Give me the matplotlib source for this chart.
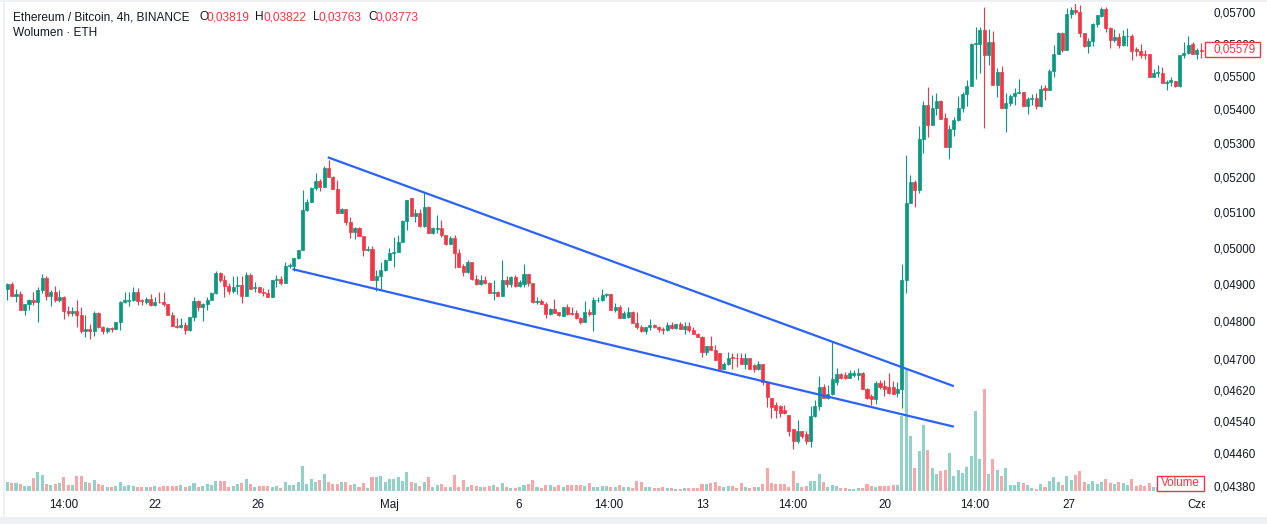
import matplotlib
matplotlib.use("Agg")
import matplotlib.pyplot as plt
from matplotlib.patches import Rectangle
from matplotlib.ticker import FixedLocator, NullLocator, FuncFormatter, NullFormatter
import numpy as np

plt.rcParams['font.family'] = ['Liberation Sans', 'DejaVu Sans']

# ETH/BTC 4h candles (Binance)
opens = [
    0.04887, 0.04901, 0.04869, 0.04874, 0.04830, 0.04846, 0.04857, 0.04852, 0.04884, 0.04918,
    0.04869, 0.04879, 0.04857, 0.04865, 0.04828, 0.04822, 0.04828, 0.04818, 0.04774, 0.04779,
    0.04774, 0.04823, 0.04784, 0.04774, 0.04783, 0.04780, 0.04798, 0.04853, 0.04855, 0.04857,
    0.04879, 0.04858, 0.04852, 0.04860, 0.04844, 0.04852, 0.04852, 0.04845, 0.04818, 0.04788,
    0.04784, 0.04789, 0.04776, 0.04811, 0.04854, 0.04837, 0.04847, 0.04857, 0.04877, 0.04930,
    0.04910, 0.04896, 0.04882, 0.04894, 0.04897, 0.04869, 0.04925, 0.04889, 0.04892, 0.04878,
    0.04877, 0.04866, 0.04910, 0.04914, 0.04902, 0.04950, 0.04951, 0.04971, 0.04994, 0.05106,
    0.05130, 0.05168, 0.05189, 0.05172, 0.05227, 0.05201, 0.05167, 0.05099, 0.05109, 0.05073,
    0.05044, 0.05056, 0.05033, 0.04994, 0.04997, 0.04910, 0.04923, 0.04939, 0.04967, 0.04985,
    0.04988, 0.05016, 0.05075, 0.05139, 0.05089, 0.05099, 0.05061, 0.05116, 0.05042, 0.05052,
    0.05054, 0.05036, 0.05011, 0.05026, 0.04985, 0.04950, 0.04932, 0.04961, 0.04913, 0.04900,
    0.04912, 0.04904, 0.04876, 0.04878, 0.04869, 0.04912, 0.04901, 0.04919, 0.04895, 0.04900,
    0.04928, 0.04902, 0.04851, 0.04855, 0.04845, 0.04819, 0.04833, 0.04826, 0.04815, 0.04837,
    0.04823, 0.04821, 0.04810, 0.04799, 0.04825, 0.04820, 0.04857, 0.04856, 0.04870, 0.04874,
    0.04830, 0.04838, 0.04810, 0.04812, 0.04826, 0.04796, 0.04785, 0.04774, 0.04785, 0.04790,
    0.04784, 0.04780, 0.04776, 0.04790, 0.04783, 0.04792, 0.04780, 0.04788, 0.04776, 0.04767,
    0.04759, 0.04720, 0.04735, 0.04724, 0.04715, 0.04674, 0.04687, 0.04706, 0.04703, 0.04704,
    0.04687, 0.04702, 0.04684, 0.04674, 0.04687, 0.04641, 0.04599, 0.04582, 0.04578, 0.04570,
    0.04556, 0.04520, 0.04490, 0.04515, 0.04508, 0.04491, 0.04554, 0.04578, 0.04628, 0.04599,
    0.04610, 0.04640, 0.04661, 0.04658, 0.04652, 0.04658, 0.04660, 0.04665, 0.04624, 0.04606,
    0.04596, 0.04637, 0.04630, 0.04628, 0.04627, 0.04613, 0.04624, 0.04911, 0.05127, 0.05185,
    0.05163, 0.05311, 0.05413, 0.05353, 0.05403, 0.05425, 0.05373, 0.05289, 0.05340, 0.05368,
    0.05403, 0.05446, 0.05471, 0.05599, 0.05601, 0.05644, 0.05565, 0.05607, 0.05474, 0.05514,
    0.05405, 0.05418, 0.05440, 0.05448, 0.05453, 0.05410, 0.05431, 0.05433, 0.05410, 0.05464,
    0.05458, 0.05517, 0.05568, 0.05633, 0.05581, 0.05694, 0.05706, 0.05700, 0.05633, 0.05592,
    0.05609, 0.05662, 0.05686, 0.05709, 0.05649, 0.05612, 0.05622, 0.05595, 0.05624, 0.05626,
    0.05583, 0.05579, 0.05569, 0.05568, 0.05499, 0.05510, 0.05511, 0.05481, 0.05482, 0.05485,
    0.05469, 0.05565, 0.05572, 0.05598, 0.05569, 0.05581,
]
highs = [
    0.04904, 0.04905, 0.04887, 0.04882, 0.04846, 0.04860, 0.04879, 0.04893, 0.04928, 0.04921,
    0.04884, 0.04895, 0.04884, 0.04868, 0.04841, 0.04839, 0.04857, 0.04839, 0.04817, 0.04794,
    0.04828, 0.04826, 0.04787, 0.04785, 0.04785, 0.04798, 0.04855, 0.04878, 0.04879, 0.04892,
    0.04889, 0.04860, 0.04866, 0.04874, 0.04865, 0.04878, 0.04879, 0.04846, 0.04824, 0.04808,
    0.04808, 0.04798, 0.04811, 0.04864, 0.04857, 0.04850, 0.04866, 0.04880, 0.04936, 0.04934,
    0.04925, 0.04902, 0.04921, 0.04921, 0.04921, 0.04934, 0.04930, 0.04905, 0.04893, 0.04889,
    0.04886, 0.04912, 0.04926, 0.04921, 0.04960, 0.04959, 0.04972, 0.04994, 0.05162, 0.05137,
    0.05173, 0.05211, 0.05195, 0.05233, 0.05250, 0.05203, 0.05192, 0.05112, 0.05110, 0.05087,
    0.05057, 0.05058, 0.05034, 0.05005, 0.05005, 0.04939, 0.04961, 0.04969, 0.04999, 0.05031,
    0.05036, 0.05078, 0.05135, 0.05141, 0.05108, 0.05108, 0.05158, 0.05117, 0.05059, 0.05092,
    0.05078, 0.05037, 0.05033, 0.05036, 0.04996, 0.04955, 0.04965, 0.04962, 0.04925, 0.04925,
    0.04921, 0.04906, 0.04912, 0.04882, 0.04965, 0.04923, 0.04923, 0.04925, 0.04912, 0.04955,
    0.04928, 0.04904, 0.04866, 0.04859, 0.04851, 0.04835, 0.04859, 0.04826, 0.04838, 0.04846,
    0.04839, 0.04830, 0.04811, 0.04855, 0.04832, 0.04866, 0.04866, 0.04887, 0.04877, 0.04874,
    0.04848, 0.04844, 0.04828, 0.04837, 0.04828, 0.04826, 0.04789, 0.04785, 0.04805, 0.04792,
    0.04787, 0.04785, 0.04799, 0.04799, 0.04794, 0.04799, 0.04799, 0.04799, 0.04785, 0.04768,
    0.04760, 0.04735, 0.04762, 0.04737, 0.04716, 0.04693, 0.04720, 0.04715, 0.04717, 0.04715,
    0.04715, 0.04703, 0.04687, 0.04696, 0.04688, 0.04642, 0.04600, 0.04590, 0.04582, 0.04582,
    0.04557, 0.04521, 0.04544, 0.04516, 0.04517, 0.04578, 0.04594, 0.04656, 0.04635, 0.04633,
    0.04746, 0.04676, 0.04663, 0.04667, 0.04672, 0.04672, 0.04676, 0.04666, 0.04625, 0.04611,
    0.04644, 0.04646, 0.04646, 0.04663, 0.04643, 0.04641, 0.04955, 0.05265, 0.05206, 0.05192,
    0.05350, 0.05426, 0.05467, 0.05443, 0.05448, 0.05428, 0.05388, 0.05353, 0.05378, 0.05440,
    0.05453, 0.05488, 0.05604, 0.05652, 0.05652, 0.05715, 0.05646, 0.05639, 0.05524, 0.05530,
    0.05448, 0.05446, 0.05463, 0.05492, 0.05453, 0.05438, 0.05446, 0.05448, 0.05474, 0.05474,
    0.05522, 0.05597, 0.05636, 0.05636, 0.05712, 0.05715, 0.05732, 0.05722, 0.05634, 0.05618,
    0.05665, 0.05691, 0.05717, 0.05717, 0.05653, 0.05646, 0.05633, 0.05644, 0.05649, 0.05630,
    0.05589, 0.05600, 0.05581, 0.05570, 0.05521, 0.05535, 0.05527, 0.05488, 0.05499, 0.05485,
    0.05565, 0.05607, 0.05625, 0.05607, 0.05586, 0.05602,
]
lows = [
    0.04857, 0.04869, 0.04852, 0.04830, 0.04818, 0.04830, 0.04844, 0.04799, 0.04875, 0.04857,
    0.04842, 0.04852, 0.04852, 0.04807, 0.04814, 0.04814, 0.04785, 0.04769, 0.04758, 0.04753,
    0.04761, 0.04781, 0.04765, 0.04769, 0.04772, 0.04779, 0.04777, 0.04850, 0.04841, 0.04855,
    0.04844, 0.04844, 0.04847, 0.04841, 0.04841, 0.04850, 0.04842, 0.04816, 0.04787, 0.04781,
    0.04781, 0.04765, 0.04774, 0.04801, 0.04828, 0.04801, 0.04830, 0.04856, 0.04874, 0.04907,
    0.04866, 0.04873, 0.04875, 0.04873, 0.04850, 0.04869, 0.04886, 0.04878, 0.04877, 0.04869,
    0.04866, 0.04866, 0.04892, 0.04898, 0.04902, 0.04945, 0.04937, 0.04970, 0.04993, 0.05104,
    0.05128, 0.05163, 0.05161, 0.05171, 0.05200, 0.05165, 0.05098, 0.05098, 0.05064, 0.05028,
    0.05025, 0.05033, 0.04977, 0.04991, 0.04910, 0.04882, 0.04884, 0.04937, 0.04965, 0.04948,
    0.04987, 0.05015, 0.05050, 0.05088, 0.05073, 0.05058, 0.05059, 0.05041, 0.05038, 0.05041,
    0.05030, 0.05008, 0.05011, 0.04945, 0.04948, 0.04923, 0.04930, 0.04911, 0.04898, 0.04898,
    0.04900, 0.04875, 0.04857, 0.04869, 0.04869, 0.04893, 0.04893, 0.04893, 0.04893, 0.04893,
    0.04895, 0.04848, 0.04846, 0.04845, 0.04808, 0.04818, 0.04821, 0.04815, 0.04814, 0.04817,
    0.04817, 0.04807, 0.04794, 0.04799, 0.04813, 0.04774, 0.04853, 0.04855, 0.04865, 0.04830,
    0.04826, 0.04810, 0.04808, 0.04810, 0.04796, 0.04780, 0.04772, 0.04767, 0.04776, 0.04781,
    0.04772, 0.04767, 0.04774, 0.04780, 0.04780, 0.04780, 0.04767, 0.04772, 0.04765, 0.04758,
    0.04706, 0.04710, 0.04724, 0.04698, 0.04674, 0.04674, 0.04685, 0.04674, 0.04680, 0.04687,
    0.04674, 0.04674, 0.04666, 0.04673, 0.04633, 0.04576, 0.04550, 0.04550, 0.04552, 0.04559,
    0.04504, 0.04471, 0.04486, 0.04498, 0.04484, 0.04476, 0.04552, 0.04569, 0.04599, 0.04598,
    0.04608, 0.04634, 0.04648, 0.04648, 0.04650, 0.04653, 0.04646, 0.04622, 0.04598, 0.04582,
    0.04584, 0.04624, 0.04606, 0.04611, 0.04610, 0.04601, 0.04573, 0.04876, 0.05125, 0.05115,
    0.05155, 0.05271, 0.05318, 0.05352, 0.05383, 0.05371, 0.05289, 0.05252, 0.05321, 0.05366,
    0.05393, 0.05410, 0.05470, 0.05492, 0.05510, 0.05344, 0.05534, 0.05474, 0.05438, 0.05405,
    0.05333, 0.05410, 0.05413, 0.05448, 0.05410, 0.05386, 0.05413, 0.05402, 0.05408, 0.05428,
    0.05457, 0.05499, 0.05567, 0.05575, 0.05580, 0.05680, 0.05694, 0.05622, 0.05590, 0.05573,
    0.05592, 0.05653, 0.05683, 0.05638, 0.05586, 0.05607, 0.05587, 0.05592, 0.05592, 0.05551,
    0.05562, 0.05557, 0.05552, 0.05497, 0.05499, 0.05499, 0.05479, 0.05458, 0.05471, 0.05467,
    0.05466, 0.05557, 0.05568, 0.05568, 0.05554, 0.05557,
]
closes = [
    0.04900, 0.04869, 0.04874, 0.04830, 0.04846, 0.04857, 0.04852, 0.04884, 0.04918, 0.04869,
    0.04879, 0.04857, 0.04865, 0.04828, 0.04822, 0.04828, 0.04818, 0.04774, 0.04779, 0.04774,
    0.04823, 0.04784, 0.04774, 0.04783, 0.04780, 0.04798, 0.04853, 0.04857, 0.04857, 0.04879,
    0.04855, 0.04855, 0.04859, 0.04844, 0.04852, 0.04851, 0.04845, 0.04818, 0.04788, 0.04784,
    0.04789, 0.04776, 0.04811, 0.04854, 0.04837, 0.04847, 0.04857, 0.04877, 0.04930, 0.04910,
    0.04896, 0.04882, 0.04892, 0.04899, 0.04869, 0.04925, 0.04888, 0.04892, 0.04878, 0.04875,
    0.04866, 0.04910, 0.04914, 0.04902, 0.04950, 0.04953, 0.04971, 0.04994, 0.05106, 0.05130,
    0.05168, 0.05189, 0.05172, 0.05227, 0.05201, 0.05167, 0.05099, 0.05109, 0.05073, 0.05044,
    0.05056, 0.05033, 0.04994, 0.04997, 0.04910, 0.04923, 0.04939, 0.04967, 0.04985, 0.04988,
    0.05016, 0.05075, 0.05135, 0.05089, 0.05099, 0.05061, 0.05116, 0.05042, 0.05054, 0.05054,
    0.05036, 0.05011, 0.05026, 0.04985, 0.04948, 0.04932, 0.04961, 0.04913, 0.04900, 0.04912,
    0.04904, 0.04875, 0.04878, 0.04869, 0.04912, 0.04901, 0.04919, 0.04895, 0.04906, 0.04928,
    0.04902, 0.04851, 0.04855, 0.04845, 0.04819, 0.04833, 0.04823, 0.04816, 0.04837, 0.04820,
    0.04820, 0.04810, 0.04797, 0.04825, 0.04820, 0.04857, 0.04858, 0.04870, 0.04874, 0.04830,
    0.04837, 0.04810, 0.04823, 0.04826, 0.04796, 0.04785, 0.04774, 0.04785, 0.04790, 0.04784,
    0.04780, 0.04776, 0.04790, 0.04783, 0.04792, 0.04780, 0.04788, 0.04776, 0.04767, 0.04759,
    0.04720, 0.04735, 0.04724, 0.04698, 0.04674, 0.04687, 0.04702, 0.04703, 0.04702, 0.04687,
    0.04702, 0.04674, 0.04674, 0.04687, 0.04641, 0.04601, 0.04576, 0.04570, 0.04562, 0.04562,
    0.04516, 0.04490, 0.04515, 0.04504, 0.04491, 0.04554, 0.04578, 0.04628, 0.04599, 0.04610,
    0.04648, 0.04661, 0.04650, 0.04650, 0.04663, 0.04663, 0.04665, 0.04624, 0.04599, 0.04596,
    0.04637, 0.04627, 0.04624, 0.04613, 0.04611, 0.04624, 0.04911, 0.05127, 0.05185, 0.05163,
    0.05311, 0.05413, 0.05353, 0.05403, 0.05425, 0.05371, 0.05289, 0.05340, 0.05368, 0.05403,
    0.05446, 0.05471, 0.05600, 0.05602, 0.05644, 0.05565, 0.05607, 0.05474, 0.05514, 0.05405,
    0.05418, 0.05440, 0.05448, 0.05453, 0.05410, 0.05431, 0.05433, 0.05410, 0.05461, 0.05458,
    0.05517, 0.05568, 0.05633, 0.05581, 0.05694, 0.05706, 0.05701, 0.05633, 0.05592, 0.05609,
    0.05662, 0.05691, 0.05709, 0.05649, 0.05612, 0.05622, 0.05595, 0.05625, 0.05626, 0.05579,
    0.05578, 0.05565, 0.05566, 0.05499, 0.05511, 0.05514, 0.05479, 0.05484, 0.05488, 0.05469,
    0.05565, 0.05572, 0.05595, 0.05569, 0.05581, 0.05579,
]
# volume, relative units (tallest bar = 121)
volume = [
    8.7, 7.7, 7.7, 6.7, 5, 5, 12.7, 18.7, 16, 6.7,
    6.3, 7.3, 7.7, 13.7, 6, 6, 15, 15, 8.7, 8,
    10.7, 6.7, 6, 4, 4, 5.3, 8.7, 5, 5.7, 5,
    4, 4, 4, 4, 5, 4, 5, 5.3, 5.3, 5.3,
    6, 4, 5, 7.7, 4, 5, 6.7, 6, 9.7, 9.7,
    10, 4, 5.3, 6.7, 8.3, 11.7, 7, 4, 5, 5,
    5, 4, 5, 3, 9.3, 5.7, 5.7, 8.7, 24.7, 7,
    11.7, 8.7, 11.3, 16.7, 8.7, 7.3, 7.3, 9.3, 9.3, 6.3,
    6.7, 4, 7.7, 3, 14, 14, 14.7, 8.7, 11.7, 11.7,
    14, 10.3, 18.7, 9.3, 7.7, 5, 9.3, 14, 4, 6.3,
    7.3, 4, 4, 16, 4, 10.7, 4, 6, 5.3, 4,
    4, 5.3, 6, 4, 7.7, 4, 3, 3, 3.7, 6.3,
    7.3, 10.7, 4, 2.7, 6, 6, 4, 6, 4, 6,
    6, 6, 6, 4.7, 7.7, 4, 4, 5.3, 5.3, 4,
    4, 6, 4, 4, 3, 10, 9, 4, 4, 3,
    3, 4, 3, 3, 2, 2, 3, 3, 3, 3,
    7, 7, 8, 9, 5, 4, 5, 5, 3, 8,
    4, 3, 4, 4, 7, 23, 8, 7, 7, 7,
    4, 20, 8, 4, 5, 10, 10, 17, 9, 4,
    6, 5, 3, 3, 2, 2, 3, 3, 7, 5,
    4, 5, 5, 5, 6, 6, 75, 121, 55, 23,
    40, 66, 41, 23, 17, 20, 21, 38, 15, 21,
    18, 24, 35, 80, 32, 102, 17, 32, 21, 15,
    23, 6, 6, 9, 8, 6, 3, 2, 7, 4,
    10, 14, 9, 6, 15, 11, 16, 20, 9, 7,
    10, 7, 9, 12, 8, 7, 9, 8, 6, 12,
    5, 6, 5, 8, 4, 4, 5, 4, 3, 4,
    5, 4, 6, 4, 5, 3,
]

tick_pos = [12.9, 34, 57.8, 87.9, 117.8, 138.6, 160.1, 180.8, 202.1, 222.9, 244.4, 274.1]
tick_labels = ['14:00', '22', '26', 'Maj', '6', '14:00', '13', '14:00', '20', '14:00', '27', 'Cze']
price_ticks = [0.0438, 0.0446, 0.0454, 0.0462, 0.0470, 0.0480, 0.0490, 0.0500,
               0.0510, 0.0520, 0.0530, 0.0540, 0.0550, 0.0560, 0.0570]

# falling wedge trendlines: (candle index, price)
upper_x, upper_y = [73.8, 218.0], [0.05258, 0.04630]
lower_x, lower_y = [65.7, 218.0], [0.04941, 0.04527]
last_price = 0.05579

GREEN, RED = '#089981', '#f23645'
VGREEN, VRED = '#90d1c8', '#f7a7a8'
DARK = '#131722'
W, H = 1267, 524

o = np.array(opens); h = np.array(highs); l = np.array(lows); c = np.array(closes)
x = np.arange(len(c))
up = c >= o
col = np.where(up, GREEN, RED)
vcol = np.where(up, VGREEN, VRED)

fig = plt.figure(figsize=(W / 100, H / 100), dpi=100)
fig.patch.set_facecolor('white')
pos = [5 / W, 33 / H, 1200 / W, 487 / H]

# volume pane underneath
axv = fig.add_axes(pos)
axv.bar(x, volume, width=0.7, color=vcol, linewidth=0)
axv.set_xlim(-0.53, 275.85)
axv.set_ylim(0, max(volume) * 487 / 121)
axv.axis('off')

ax = fig.add_axes(pos)
ax.patch.set_alpha(0)
ax.vlines(x, np.minimum(l, np.minimum(o, c)), np.maximum(h, np.maximum(o, c)),
          colors=col, linewidth=0.8, zorder=2)
ax.bar(x, np.abs(c - o), bottom=np.minimum(o, c), width=0.7, color=col,
       edgecolor=col, linewidth=0.5, zorder=3)
ax.plot(upper_x, upper_y, color='#2962ff', lw=1.6, zorder=5, solid_capstyle='butt')
ax.plot(lower_x, lower_y, color='#2962ff', lw=1.6, zorder=5, solid_capstyle='butt')

ax.set_yscale('log')
ax.set_xlim(-0.53, 275.85)
ax.set_ylim(0.043680, 0.057254)
ax.yaxis.set_major_locator(FixedLocator(price_ticks))
ax.yaxis.set_minor_locator(NullLocator())
ax.yaxis.set_minor_formatter(NullFormatter())
ax.yaxis.set_major_formatter(FuncFormatter(lambda v, p: f'{v:.5f}'.replace('.', ',')))
ax.yaxis.tick_right()
ax.tick_params(axis='y', length=0, pad=5.8, labelsize=8.4, labelcolor=DARK)
ax.set_xticks(tick_pos, tick_labels)
ax.tick_params(axis='x', length=0, pad=6, labelsize=8.4, labelcolor=DARK)
for s in ax.spines.values():
    s.set_visible(False)


def fx(px):
    return px / W


def fy(py):
    return 1 - py / H


# header
fig.text(fx(13), fy(17), 'Ethereum / Bitcoin, 4h, BINANCE', color=DARK, fontsize=8.6, va='center')
for lab, val, lx, vx in [('O', '0,03819', 199, 206.5), ('H', '0,03822', 255.5, 263),
                         ('L', '0,03763', 312.5, 318.5), ('C', '0,03773', 368, 375.5)]:
    fig.text(fx(lx), fy(17), lab, color=DARK, fontsize=8.6, va='center')
    fig.text(fx(vx), fy(17), val, color=RED, fontsize=8.6, va='center')
fig.text(fx(13), fy(33.5), 'Wolumen · ETH', color=DARK, fontsize=8.6, va='center')

# last price tag
fig.add_artist(Rectangle((fx(1205), fy(57.3)), 55 / W, 15 / H, transform=fig.transFigure,
                         facecolor='white', edgecolor=RED, lw=1, zorder=5))
fig.text(fx(1213), fy(49.8), f'{last_price:.5f}'.replace('.', ','), color=RED,
         fontsize=8.4, va='center', zorder=6)

# volume tag
fig.add_artist(Rectangle((fx(1156.5), fy(490.5)), 47 / W, 14.5 / H, transform=fig.transFigure,
                         facecolor='white', edgecolor=RED, lw=1, zorder=5))
fig.text(fx(1180), fy(483.5), 'Volume', color=RED, fontsize=8.4, ha='center', va='center', zorder=6)

# clip the month label under the price scale, and the frame
fig.add_artist(Rectangle((fx(1205), fy(516)), 62 / W, 22 / H, transform=fig.transFigure,
                         facecolor='white', edgecolor='none', zorder=4))
fig.add_artist(Rectangle((fx(3), 0), 2 / W, 1, transform=fig.transFigure,
                         facecolor='#eef0f4', edgecolor='none', zorder=4))
fig.add_artist(Rectangle((0, 0), 1, 7 / H, transform=fig.transFigure,
                         facecolor='#eef0f4', edgecolor='none', zorder=4))
fig.add_artist(Rectangle((0, fy(2)), 1, 2 / H, transform=fig.transFigure,
                         facecolor='#eef0f4', edgecolor='none', zorder=4))

fig.savefig('out.png', dpi=100)
